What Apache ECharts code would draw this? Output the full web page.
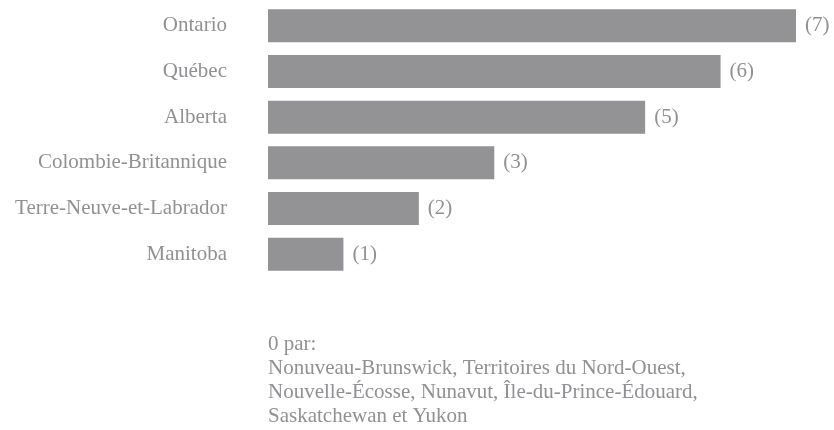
<!DOCTYPE html>
<html>
<head>
<meta charset="utf-8">
<script src="https://cdn.jsdelivr.net/npm/echarts@6/dist/echarts.min.js"></script>
<style>
html,body{margin:0;padding:0;background:#fff;}
#chart{width:834px;height:430px;}
</style>
</head>
<body>
<div id="chart"></div>
<script>
const categories = ["Ontario", "Québec", "Alberta", "Colombie-Britannique", "Terre-Neuve-et-Labrador", "Manitoba"];
const values = [7, 6, 5, 3, 2, 1];
const noteLines = [
  "0 par:",
  "Nonuveau-Brunswick, Territoires du Nord-Ouest,",
  "Nouvelle-Écosse, Nunavut, Île-du-Prince-Édouard,",
  "Saskatchewan et Yukon"
];

const FONT = '"Liberation Serif", "DejaVu Serif", serif';
const TEXT = '#919195';
const BAR = '#939396';

const chart = echarts.init(document.getElementById('chart'), null, {renderer: 'canvas'});
chart.setOption({
  animation: false,
  backgroundColor: '#ffffff',
  grid: {left: 268, top: 3, width: 528, height: 274, containLabel: false},
  xAxis: {
    type: 'value', min: 0, max: 7, show: false
  },
  yAxis: {
    type: 'category',
    data: categories,
    inverse: true,
    axisLine: {show: false},
    axisTick: {show: false},
    splitLine: {show: false},
    axisLabel: {
      margin: 41,
      color: TEXT,
      fontFamily: FONT,
      fontSize: 21
    }
  },
  series: [{
    type: 'bar',
    data: values,
    barWidth: 33,
    itemStyle: {color: BAR},
    label: {
      show: true,
      position: 'right',
      distance: 9,
      formatter: '({c})',
      color: TEXT,
      fontFamily: FONT,
      fontSize: 21
    }
  }],
  graphic: [{
    type: 'text',
    left: 268,
    top: 332,
    style: {
      text: noteLines.join('\n'),
      fill: TEXT,
      font: '21px ' + FONT,
      lineHeight: 24
    }
  }]
});
</script>
</body>
</html>
